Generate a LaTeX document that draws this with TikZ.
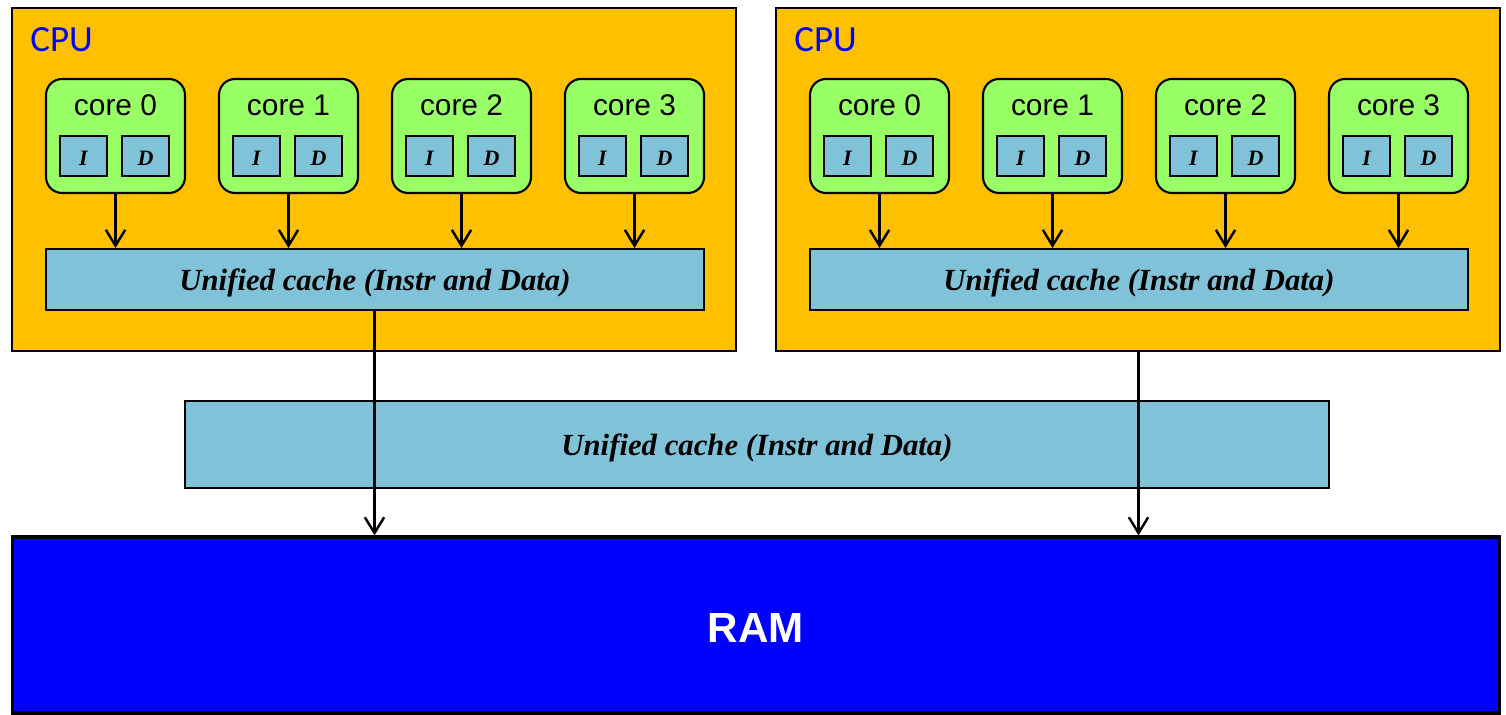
\documentclass[tikz,border=0pt]{standalone}
\usepackage{fontspec}
\setmainfont{Liberation Serif}
\setsansfont{Liberation Sans}
\newfontfamily\cpufont{Carlito}
\usetikzlibrary{arrows.meta}
\definecolor{cpuorange}{RGB}{255,192,0}
\definecolor{coregreen}{RGB}{153,255,102}
\definecolor{cacheblue}{RGB}{128,195,217}
\definecolor{ramblue}{RGB}{0,0,255}
\begin{document}
\begin{tikzpicture}[x=0.02cm,y=-0.02cm,
  cpubox/.style={draw=black,line width=1.3pt,fill=cpuorange,minimum width=14.48cm,minimum height=6.86cm,inner sep=0pt},
  cpulabel/.style={text=ramblue,font=\cpufont\fontsize{21}{24}\selectfont,inner sep=0pt},
  corebox/.style={draw=black,line width=1.2pt,fill=coregreen,rounded corners=0.32cm,minimum width=2.78cm,minimum height=2.28cm,inner sep=0pt},
  corelabel/.style={font=\sffamily\fontsize{17}{20}\selectfont,inner sep=0pt},
  l1box/.style={draw=black,line width=1.1pt,fill=cacheblue,minimum width=0.94cm,minimum height=0.8cm,inner sep=0pt},
  l1text/.style={inner sep=0pt,font=\bfseries\itshape\fontsize{12.5}{14}\selectfont},
  cachebox/.style={draw=black,line width=1.1pt,fill=cacheblue,inner sep=0pt},
  cachetext/.style={inner sep=0pt,font=\bfseries\itshape\fontsize{17.5}{21}\selectfont},
  conn/.style={line width=1.4pt,-{Straight Barb[length=9pt,width=11pt,line width=1.4pt]}},
]
\useasboundingbox (0,0) rectangle (1506,715);
\fill[white] (0,0) rectangle (1506,715);

% main memory
\node[draw=black,line width=1.8pt,fill=ramblue,minimum width=29.76cm,minimum height=3.52cm,inner sep=0pt] (ram) at (756,625) {};
\node[text=white,inner sep=0pt,font=\sffamily\bfseries\fontsize{24}{28}\selectfont] (ramlbl) at ([yshift=-0.06cm]ram.center) {RAM};

% shared last-level cache
\node[cachebox,minimum width=22.88cm,minimum height=1.74cm] (l3) at (757,444.5) {};
\node[cachetext] (l3lbl) at ([yshift=-0.06cm]l3.center) {Unified cache (Instr and Data)};

% two processors, four cores each
\foreach \c/\dx in {A/0,B/764} {
  \node[cpubox] (cpu\c) at (374+\dx,179.5) {};
  \node[cpulabel,anchor=base west] (cpulbl\c) at (30+\dx,52) {CPU};
  \node[cachebox,minimum width=13.16cm,minimum height=1.22cm] (cache\c) at (375+\dx,279.5) {};
  \node[cachetext] (cachelbl\c) at ([yshift=-0.06cm]cache\c.center) {Unified cache (Instr and Data)};
  \foreach \i/\x in {0/115.5,1/288.5,2/461.5,3/634.5} {
    \node[corebox] (core\c\i) at (\x+\dx,136) {};
    \node[corelabel,anchor=base] (corelbl\c\i) at (\x+\dx,116) {core \i};
    \node[l1box] (icache\c\i) at (\x+\dx-32,156) {};
    \node[l1text] (ilbl\c\i) at ([yshift=-0.05cm]icache\c\i.center) {I};
    \node[l1box] (dcache\c\i) at (\x+\dx+30,156) {};
    \node[l1text] (dlbl\c\i) at ([yshift=-0.05cm]dcache\c\i.center) {D};
    \draw[conn] (core\c\i.south) -- (core\c\i.south |- cache\c.north);
  }
}

% paths to memory
\coordinate (downA) at ([xshift=-0.01cm]cacheA.south);
\coordinate (downB) at ([xshift=0.01cm]cpuB.south);
\draw[conn] (downA) -- (downA |- ram.north);
\draw[conn] (downB) -- (downB |- ram.north);
\end{tikzpicture}
\end{document}
